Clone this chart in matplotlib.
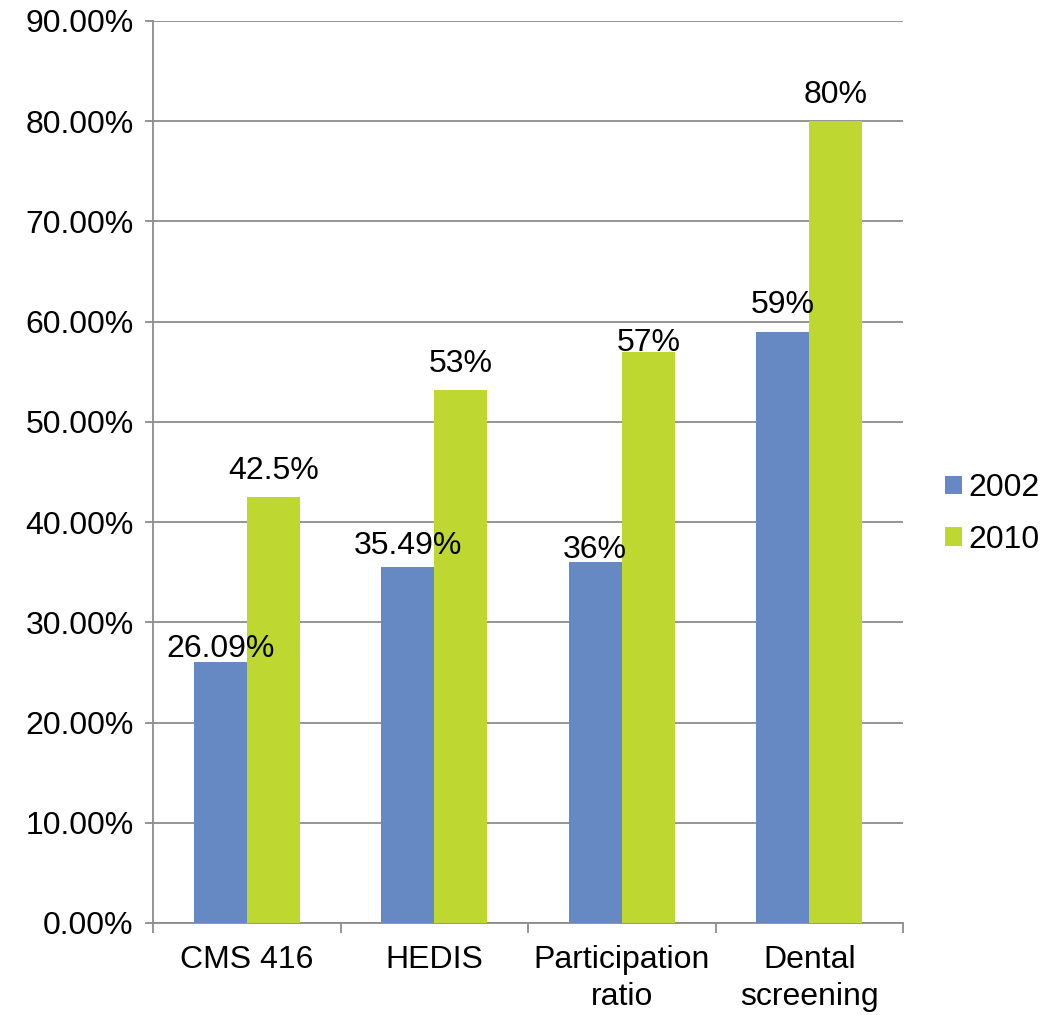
import matplotlib
matplotlib.use("Agg")
import matplotlib.pyplot as plt
import numpy as np
from matplotlib.ticker import FuncFormatter

categories = ["CMS 416", "HEDIS", "Participation\nratio", "Dental\nscreening"]
values_2002 = [26.09, 35.49, 36.0, 59.0]
values_2010 = [42.5, 53.2, 57.0, 80.0]
labels_2002 = ["26.09%", "35.49%", "36%", "59%"]
labels_2010 = ["42.5%", "53%", "57%", "80%"]

# gap (px) between bar top and label baseline, as placed in the original
gap_2002 = [5, 13, 4, 19]
gap_2010 = [18, 18, 1, 18]

blue = "#6688C3"
green = "#BED731"
grid_gray = "#8C8C8C"

plt.rcParams["font.family"] = ["Liberation Sans", "DejaVu Sans"]

fig = plt.figure(figsize=(10.54, 10.15), dpi=100)
ax = fig.add_axes([153 / 1054, 1 - 923 / 1015, 750 / 1054, 902 / 1015])

x = np.arange(len(categories))
width = 0.283
b1 = ax.bar(x - width / 2, values_2002, width, color=blue, label="2002", zorder=3)
b2 = ax.bar(x + width / 2, values_2010, width, color=green, label="2010", zorder=3)

for bars, labs, gaps in ((b1, labels_2002, gap_2002), (b2, labels_2010, gap_2010)):
    for bar, lab, g in zip(bars, labs, gaps):
        ax.annotate(lab, (bar.get_x() + bar.get_width() / 2, bar.get_height()),
                    xytext=(0, g * 0.72), textcoords="offset points",
                    ha="center", va="baseline", fontsize=23, zorder=4)

ax.set_xlim(-0.5, len(categories) - 0.5)
ax.set_ylim(0, 90)
ax.set_yticks(np.arange(0, 91, 10))
ax.yaxis.set_major_formatter(FuncFormatter(lambda v, p: f"{v:.2f}%"))
ax.yaxis.grid(True, color=grid_gray, linewidth=1.3, zorder=0)

# category labels centered, ticks at boundaries
ax.set_xticks(np.arange(-0.5, len(categories), 1.0))
ax.set_xticklabels([])
ax.set_xticks(x, minor=True)
ax.set_xticklabels(categories, minor=True, fontsize=23, linespacing=1.3)
ax.tick_params(axis="x", which="minor", length=0, pad=16)
ax.tick_params(axis="x", which="major", length=7, width=1.3, color=grid_gray, direction="out")
ax.tick_params(axis="y", length=6, width=1.3, color=grid_gray, labelsize=23, pad=8)

for side in ("top", "right"):
    ax.spines[side].set_visible(False)
for side in ("left", "bottom"):
    ax.spines[side].set_color(grid_gray)
    ax.spines[side].set_linewidth(1.3)

fig.legend(handles=[b1, b2], labels=["2002", "2010"], loc="center left",
           bbox_to_anchor=(945 / 1054, 1 - 514 / 1015), frameon=False,
           borderpad=0, borderaxespad=0,
           fontsize=23, handlelength=0.53, handleheight=0.53, handletextpad=0.2,
           labelspacing=0.67)

fig.savefig("out.png", dpi=100)
